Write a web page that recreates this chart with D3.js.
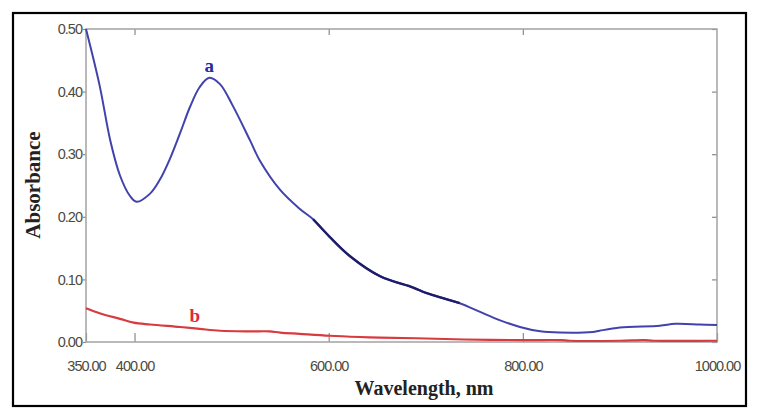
<!DOCTYPE html>
<html>
<head>
<meta charset="utf-8">
<script src="https://cdn.jsdelivr.net/npm/d3@7"></script>
<style>
  body { margin: 0; background: #fff; }
</style>
</head>
<body>
<div id="chart"></div>
<script>
// curve a
var waveA = [350, 364, 375, 385, 395, 402, 416, 426, 436, 447, 457, 467, 477, 488, 501, 519, 529, 550, 570, 584, 601, 622, 653, 687, 701, 735, 756, 776, 797, 818, 838, 872, 879, 900, 941, 957, 982, 1000];
var absA = [0.500, 0.410, 0.322, 0.266, 0.234, 0.224, 0.237, 0.259, 0.291, 0.334, 0.375, 0.407, 0.422, 0.412, 0.378, 0.322, 0.290, 0.243, 0.213, 0.196, 0.168, 0.137, 0.105, 0.087, 0.078, 0.062, 0.048, 0.035, 0.024, 0.017, 0.015, 0.016, 0.018, 0.023, 0.026, 0.029, 0.028, 0.027];
// curve b
var waveB = [350, 364, 385, 399, 416, 447, 467, 488, 519, 539, 550, 570, 601, 632, 653, 690, 740, 800, 840, 848, 900, 925, 935, 1000];
var absB = [0.054, 0.046, 0.037, 0.031, 0.028, 0.024, 0.021, 0.018, 0.017, 0.017, 0.015, 0.013, 0.010, 0.008, 0.007, 0.006, 0.004, 0.003, 0.003, 0.002, 0.002, 0.003, 0.002, 0.002];

var xTicks = [350, 400, 600, 800, 1000];
var yTicks = [0, 0.1, 0.2, 0.3, 0.4, 0.5];

var margin = { top: 29, right: 43, bottom: 78, left: 86 },
    width = 760 - margin.left - margin.right,
    height = 420 - margin.top - margin.bottom;

var root = d3.select("#chart")
    .append("svg")
    .attr("width", 760)
    .attr("height", 420);

// outer black frame
root.append("rect")
    .attr("x", 13).attr("y", 13)
    .attr("width", 733).attr("height", 393)
    .attr("fill", "none")
    .attr("stroke", "#000")
    .attr("stroke-width", 2.2);

var svg = root.append("g")
    .attr("transform", "translate(" + margin.left + "," + margin.top + ")");

var x = d3.scaleLinear().domain([350, 1000]).range([0, width]);
var y = d3.scaleLinear().domain([0, 0.5]).range([height, 0]);

var fmt = d3.format(".2f");

// bottom axis, inner ticks
svg.append("g")
    .attr("transform", "translate(0," + height + ")")
    .call(d3.axisBottom(x).tickValues(xTicks).tickFormat(fmt).tickSize(-9).tickPadding(19));
// top inner ticks
svg.append("g")
    .call(d3.axisTop(x).tickValues([400, 600, 800]).tickFormat("").tickSize(-6));

svg.append("g")
    .call(d3.axisLeft(y).tickValues(yTicks).tickFormat(fmt).tickSize(3).tickPadding(1));
// right inner ticks
svg.append("g")
    .attr("transform", "translate(" + width + ",0)")
    .call(d3.axisRight(y).tickValues(yTicks).tickFormat("").tickSize(-5));

svg.selectAll(".domain").remove();
svg.selectAll(".tick line").attr("stroke", "#8a8a8a").attr("stroke-width", 1.2);
svg.selectAll(".tick text")
    .attr("fill", "#4b4b3e")
    .style("font-family", "'Liberation Sans', Arial, sans-serif")
    .style("font-size", "14.5px")
    .style("letter-spacing", "-1px");

// plot frame
svg.append("rect")
    .attr("width", width).attr("height", height)
    .attr("fill", "none")
    .attr("stroke", "#a3a3a3")
    .attr("stroke-width", 1.5);

var dataA = waveA.map(function (w, i) { return { w: w, a: absA[i] }; });
var dataB = waveB.map(function (w, i) { return { w: w, a: absB[i] }; });

var line = d3.line()
    .x(d => x(d.w))
    .y(d => y(d.a))
    .curve(d3.curveCatmullRom.alpha(0.5));

svg.append("path")
    .datum(dataB)
    .attr("fill", "none")
    .attr("stroke", "#d83a40")
    .attr("stroke-width", 2.2)
    .attr("d", line);

svg.append("path")
    .datum(dataA)
    .attr("fill", "none")
    .attr("stroke", "#4242ac")
    .attr("stroke-width", 2)
    .attr("d", line);

// darker stretch of curve a
svg.append("path")
    .datum(dataA.filter(d => d.w >= 584 && d.w <= 735))
    .attr("fill", "none")
    .attr("stroke", "#1c1c6a")
    .attr("stroke-width", 2.4)
    .attr("d", line);

// curve labels
svg.append("text")
    .attr("x", x(477)).attr("y", y(0.422) - 6)
    .attr("text-anchor", "middle")
    .attr("fill", "#2a2aa0")
    .style("font-family", "'Liberation Serif', 'Times New Roman', serif")
    .style("font-weight", "bold")
    .style("font-size", "19px")
    .text("a");

svg.append("text")
    .attr("x", x(462)).attr("y", y(0.032))
    .attr("text-anchor", "middle")
    .attr("fill", "#e0283a")
    .style("font-family", "'Liberation Serif', 'Times New Roman', serif")
    .style("font-weight", "bold")
    .style("font-size", "19px")
    .text("b");

// axis titles
root.append("text")
    .attr("x", 424).attr("y", 395)
    .attr("text-anchor", "middle")
    .attr("fill", "#222")
    .style("font-family", "'Liberation Serif', 'Times New Roman', serif")
    .style("font-weight", "bold")
    .style("font-size", "20px")
    .text("Wavelength, nm");

root.append("text")
    .attr("transform", "translate(40,185) rotate(-90)")
    .attr("text-anchor", "middle")
    .attr("fill", "#222")
    .style("font-family", "'Liberation Serif', 'Times New Roman', serif")
    .style("font-weight", "bold")
    .style("font-size", "21px")
    .text("Absorbance");
</script>
</body>
</html>
